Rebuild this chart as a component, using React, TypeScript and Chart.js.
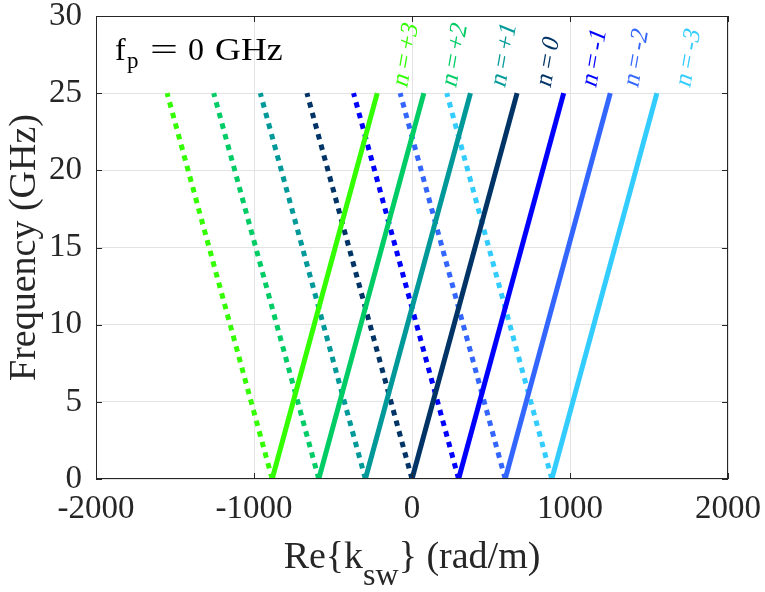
import { useEffect, useRef } from 'react'
import { Chart, registerables } from 'chart.js'

Chart.register(...registerables)

// Floquet harmonics n, one colour each
const modes = ['+3', '+2', '+1', '0', '-1', '-2', '-3']
const modeColors = ['#33ff00', '#00cc66', '#009999', '#003366', '#0000ff', '#3366ff', '#33ccff']

// frequency span of every branch (GHz)
const freqs = [0, 25]
// Re{k_sw} (rad/m) at 0 GHz and at 25 GHz
const kAtZero = [-885, -590, -295, 0, 295, 590, 885]
const kForwardTop = [-220, 75, 370, 665, 960, 1255, 1550]
const kBackwardTop = [-1550, -1255, -960, -665, -370, -75, 220]

// where the "n = .." labels sit (data coords)
const labelK = [-32, 278, 589, 876, 1165, 1430, 1760]
const labelFreq = 25.3

const xTicks = [-2000, -1000, 0, 1000, 2000]
const yTicks = [0, 5, 10, 15, 20, 25, 30]

const AXIS = '#262626'
const SERIF = '"Liberation Serif"'

const decorations = {
  id: 'decorations',
  afterDatasetsDraw(chart: any) {
    const { ctx, chartArea: a, scales } = chart
    const xs = scales.x
    const ys = scales.y
    ctx.save()

    // box + inward ticks, MATLAB style
    ctx.strokeStyle = AXIS
    ctx.lineWidth = 1
    ctx.strokeRect(Math.round(a.left) + 0.5, Math.round(a.top) + 0.5, Math.round(a.right - a.left) - 1, Math.round(a.bottom - a.top) - 1)
    ctx.beginPath()
    xTicks.forEach(v => {
      const px = Math.round(xs.getPixelForValue(v)) + 0.5
      ctx.moveTo(px, a.bottom); ctx.lineTo(px, a.bottom - 6)
      ctx.moveTo(px, a.top); ctx.lineTo(px, a.top + 6)
    })
    yTicks.forEach(v => {
      const py = Math.round(ys.getPixelForValue(v)) + 0.5
      ctx.moveTo(a.left, py); ctx.lineTo(a.left + 6, py)
      ctx.moveTo(a.right, py); ctx.lineTo(a.right - 6, py)
    })
    ctx.stroke()

    // n = .. labels (italic faked with a slant, the serif italic face is missing)
    ctx.font = `25px ${SERIF}`
    ctx.textAlign = 'left'
    ctx.textBaseline = 'alphabetic'
    modes.forEach((m, i) => {
      ctx.save()
      ctx.translate(xs.getPixelForValue(labelK[i]), ys.getPixelForValue(labelFreq))
      ctx.rotate(-80 * Math.PI / 180)
      ctx.transform(1, 0, -0.22, 1, 0, 0)
      ctx.fillStyle = modeColors[i]
      let p = 0
      for (const part of ['n', '=', m]) {
        ctx.fillText(part, p, 0)
        p += ctx.measureText(part).width + 5
      }
      ctx.restore()
    })

    // f_p = 0 GHz
    const fx = a.left
    const fy = a.top + 44
    ctx.fillStyle = '#000'
    ctx.font = `32px ${SERIF}`
    ctx.fillText('f', fx + 19, fy)
    ctx.font = `23px ${SERIF}`
    ctx.fillText('p', fx + 31, fy + 8)
    ctx.font = `32px ${SERIF}`
    ctx.save()
    ctx.translate(fx + 54, fy)
    ctx.scale(1.55, 1)
    ctx.fillText('=', 0, 0)
    ctx.restore()
    ctx.fillText('0', fx + 92, fy)
    ctx.save()
    ctx.translate(fx + 119, fy)
    ctx.scale(1.12, 1)
    ctx.fillText('GHz', 0, 0)
    ctx.restore()

    // axis titles
    ctx.fillStyle = AXIS
    const big = `38px ${SERIF}`
    const sub = `32px ${SERIF}`
    ctx.font = big
    const w1 = ctx.measureText('Re{k').width
    const w3 = ctx.measureText('} (rad/m)').width
    ctx.font = sub
    const w2 = ctx.measureText('sw').width
    const total = w1 + w2 + w3
    let tx = (a.left + a.right) / 2 - total / 2
    const ty = a.bottom + 89
    ctx.font = big
    ctx.fillText('Re{k', tx, ty)
    tx += w1
    ctx.font = sub
    ctx.fillText('sw', tx, ty + 17)
    tx += w2
    ctx.font = big
    ctx.fillText('} (rad/m)', tx, ty)

    ctx.save()
    ctx.translate(35, (a.top + a.bottom) / 2)
    ctx.rotate(-Math.PI / 2)
    ctx.textAlign = 'center'
    ctx.fillText('Frequency (GHz)', 0, 0)
    ctx.restore()

    ctx.restore()
  },
}

function App() {
  const canvasRef = useRef<HTMLCanvasElement>(null)

  useEffect(() => {
    document.body.style.margin = '0'
    if (!canvasRef.current) return

    const solid = modes.map((m, i) => ({
      label: `n = ${m}`,
      data: [
        { x: kAtZero[i], y: freqs[0] },
        { x: kForwardTop[i], y: freqs[1] },
      ],
      borderColor: modeColors[i],
      borderWidth: 5,
      pointRadius: 0,
      showLine: true,
      order: 0,
    }))
    const dotted = modes.map((m, i) => ({
      label: `n = ${m} (backward)`,
      data: [
        { x: kAtZero[i], y: freqs[0] },
        { x: kBackwardTop[i], y: freqs[1] },
      ],
      borderColor: modeColors[i],
      borderWidth: 5,
      borderDash: [5.5, 5.5],
      pointRadius: 0,
      showLine: true,
      order: 1,
    }))

    const chart = new Chart(canvasRef.current, {
      type: 'scatter',
      data: { datasets: [...solid, ...dotted] },
      options: {
        responsive: true,
        maintainAspectRatio: false,
        animation: false,
        layout: { padding: { top: 16, right: 37, left: 0, bottom: 0 } },
        plugins: { legend: { display: false }, tooltip: { enabled: false } },
        scales: {
          x: {
            type: 'linear',
            min: -2000,
            max: 2000,
            afterBuildTicks: (s: any) => { s.ticks = xTicks.map(v => ({ value: v })) },
            afterFit: (s: any) => { s.height = 113; s.paddingLeft = 0; s.paddingRight = 0 },
            grid: { color: '#e3e3e3', drawTicks: false },
            border: { display: false },
            ticks: {
              color: AXIS,
              padding: 11,
              maxRotation: 0,
              font: { family: SERIF, size: 33 },
              callback: (v: any) => String(v),
            },
          },
          y: {
            type: 'linear',
            min: 0,
            max: 30,
            afterBuildTicks: (s: any) => { s.ticks = yTicks.map(v => ({ value: v })) },
            afterFit: (s: any) => { s.width = 96; s.paddingTop = 0; s.paddingBottom = 0 },
            grid: { color: '#e3e3e3', drawTicks: false },
            border: { display: false },
            ticks: {
              color: AXIS,
              padding: 14,
              font: { family: SERIF, size: 33 },
              callback: (v: any) => String(v),
            },
          },
        },
      },
      plugins: [decorations],
    })
    return () => { chart.destroy() }
  }, [])

  return (
    <div style={{ width: 765, height: 592, position: 'relative', background: '#fff' }}>
      <canvas ref={canvasRef} />
    </div>
  )
}

export default App
